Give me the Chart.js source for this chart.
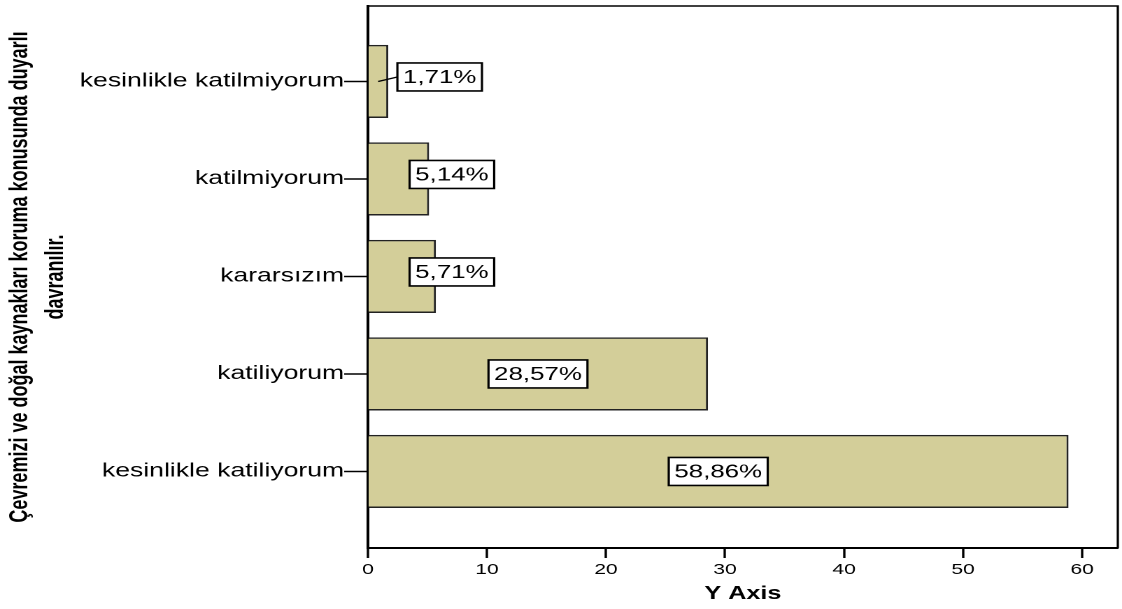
<!DOCTYPE html>
<html>
<head>
<meta charset="utf-8">
<script src="https://cdn.jsdelivr.net/npm/chart.js@4.4.1/dist/chart.umd.min.js"></script>
<style>
  html, body { margin: 0; padding: 0; background: #fff; overflow: hidden; }
  /* the original picture is stretched sideways, so draw narrow and widen */
  #wrap { width: 802px; height: 609px; transform: scaleX(1.399); transform-origin: 0 0; }
</style>
</head>
<body>
<div id="wrap"><canvas id="chart" width="802" height="609"></canvas></div>
<script>
// ---- data ----
const categories = ['kesinlikle katilmiyorum', 'katilmiyorum', 'kararsızım', 'katiliyorum', 'kesinlikle katiliyorum'];
const percents = [1.71, 5.14, 5.71, 28.57, 58.86];
const xTicks = [0, 10, 20, 30, 40, 50, 60];
const yTitle = ['Çevremizi ve doğal kaynakları koruma konusunda duyarlı', 'davranılır.'];
const xTitle = 'Y Axis';

const FONT = '"Liberation Sans", Arial, sans-serif';
Chart.defaults.font.family = FONT;
Chart.defaults.color = '#000';

function pctText(v) {
  return v.toFixed(2).replace('.', ',') + '%';
}

// ---- boxed value labels ----
const valueLabels = {
  id: 'valueLabels',
  afterDatasetsDraw(chart) {
    const { ctx } = chart;
    const meta = chart.getDatasetMeta(0);
    const x0 = chart.scales.x.getPixelForValue(0);
    ctx.save();
    ctx.font = '18.5px ' + FONT;
    ctx.textAlign = 'center';
    ctx.textBaseline = 'middle';
    meta.data.forEach((bar, i) => {
      const txt = pctText(percents[i]);
      const w = ctx.measureText(txt).width + 8;
      const h = 28;
      let cx = (x0 + bar.x) / 2;
      let cy = bar.y;
      let leader = false;
      if (bar.x - x0 < w + 20) {
        cx = x0 + 60;
        cy = bar.y - 4.5;
        if (bar.x < cx - w / 2) {
          cx = bar.x + 6.5 + w / 2;
          leader = true;
        }
      }
      if (leader) {
        ctx.strokeStyle = '#000';
        ctx.lineWidth = 1.3;
        ctx.beginPath();
        ctx.moveTo((x0 + bar.x) / 2, bar.y);
        ctx.lineTo(cx - w / 2, cy);
        ctx.stroke();
      }
      ctx.fillStyle = '#fff';
      ctx.fillRect(cx - w / 2, cy - h / 2, w, h);
      ctx.strokeStyle = '#000';
      ctx.lineWidth = 1.6;
      ctx.strokeRect(cx - w / 2, cy - h / 2, w, h);
      ctx.fillStyle = '#000';
      ctx.fillText(txt, cx, cy + 1);
    });
    ctx.restore();
  }
};

// ---- top / right frame ----
const frame = {
  id: 'frame',
  afterDraw(chart) {
    const { ctx, chartArea: a } = chart;
    ctx.save();
    ctx.strokeStyle = '#000';
    ctx.lineWidth = 1.6;
    ctx.beginPath();
    ctx.moveTo(a.left, a.top);
    ctx.lineTo(a.right, a.top);
    ctx.lineTo(a.right, a.bottom);
    ctx.stroke();
    ctx.restore();
  }
};

new Chart(document.getElementById('chart'), {
  type: 'bar',
  data: {
    datasets: [{
      data: percents.map((v, i) => ({ x: v, y: i })),
      backgroundColor: '#d3ce99',
      borderColor: '#222',
      borderWidth: 1.5,
      barPercentage: 0.75,
      categoryPercentage: 1
    }]
  },
  options: {
    indexAxis: 'y',
    responsive: false,
    devicePixelRatio: 2,
    animation: false,
    layout: { padding: { top: 6, right: 3, left: 0, bottom: 0 } },
    plugins: { legend: { display: false }, tooltip: { enabled: false } },
    scales: {
      x: {
        type: 'linear',
        min: 0,
        max: 63,
        afterBuildTicks: s => { s.ticks = xTicks.map(v => ({ value: v })); },
        afterFit: s => { s.height = 61; s.paddingLeft = 0; s.paddingRight = 0; },
        ticks: { font: { size: 15 }, padding: 3, maxRotation: 0, autoSkip: false },
        grid: { drawOnChartArea: false, tickLength: 10, tickWidth: 1.7, tickColor: '#000' },
        border: { display: true, color: '#000', width: 2 },
        title: { display: true, text: xTitle, font: { size: 18, weight: 'bold' }, padding: { top: 0, bottom: 4 } }
      },
      y: {
        type: 'linear',
        reverse: true,
        offset: false,
        min: -0.774,
        max: 4.785,
        afterBuildTicks: s => {
          s.ticks = categories.map((c, i) => ({ value: i }));
        },
        afterFit: s => { s.width = 263; s.paddingTop = 0; s.paddingBottom = 0; },
        ticks: {
          stepSize: 1,
          autoSkip: false,
          padding: 0,
          font: { size: 19 },
          callback: v => categories[v] ?? ''
        },
        grid: { offset: false, drawOnChartArea: false, tickLength: 17, tickWidth: 1.5, tickColor: '#000' },
        border: { display: true, color: '#000', width: 2 },
        title: {
          display: true,
          text: yTitle,
          font: { size: 18, weight: 'bold', lineHeight: 1.43 },
          padding: { top: 1.5, bottom: 0 }
        }
      }
    }
  },
  plugins: [valueLabels, frame]
});
</script>
</body>
</html>
